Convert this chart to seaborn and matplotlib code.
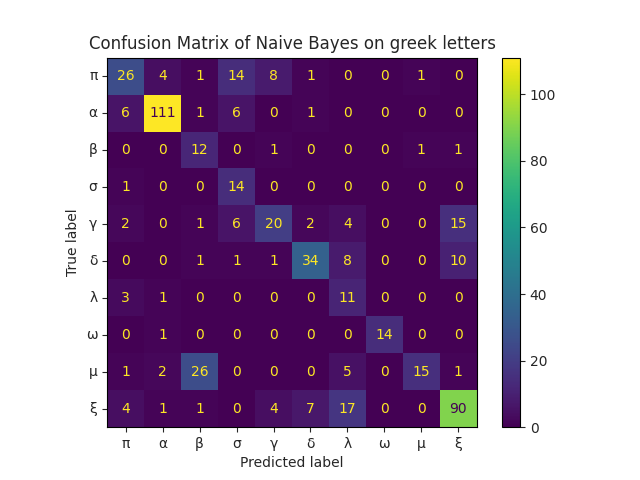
import numpy as np
import seaborn as sns
import matplotlib
matplotlib.use("Agg")
import matplotlib.pyplot as plt

labels = ["π", "α", "β", "σ", "γ", "δ", "λ", "ω", "μ", "ξ"]

row_pi = [26, 4, 1, 14, 8, 1, 0, 0, 1, 0]
row_alpha = [6, 111, 1, 6, 0, 1, 0, 0, 0, 0]
row_beta = [0, 0, 12, 0, 1, 0, 0, 0, 1, 1]
row_sigma = [1, 0, 0, 14, 0, 0, 0, 0, 0, 0]
row_gamma = [2, 0, 1, 6, 20, 2, 4, 0, 0, 15]
row_delta = [0, 0, 1, 1, 1, 34, 8, 0, 0, 10]
row_lambda = [3, 1, 0, 0, 0, 0, 11, 0, 0, 0]
row_omega = [0, 1, 0, 0, 0, 0, 0, 14, 0, 0]
row_mu = [1, 2, 26, 0, 0, 0, 5, 0, 15, 1]
row_xi = [4, 1, 1, 0, 4, 7, 17, 0, 0, 90]

cm = np.array([row_pi, row_alpha, row_beta, row_sigma, row_gamma,
               row_delta, row_lambda, row_omega, row_mu, row_xi])

sns.set_style("ticks")
plt.rcParams['font.family'] = ['DejaVu Sans']

fig, ax = plt.subplots(figsize=(6.4, 4.8), dpi=100)
cmap = plt.get_cmap("viridis")
sns.heatmap(cm, ax=ax, cmap=cmap, vmin=cm.min(), vmax=cm.max(), square=True,
            annot=True, fmt="d", annot_kws={"fontsize": 10},
            xticklabels=labels, yticklabels=labels, linewidths=0)

# sklearn-style text colours: dark on bright cells, yellow on dark ones
thresh = (cm.max() + cm.min()) / 2.0
for txt, val in zip(ax.texts, cm.flatten()):
    txt.set_color(cmap(0.0) if val > thresh else cmap(1.0))

for side in ax.spines.values():
    side.set_visible(True)
    side.set_linewidth(0.8)
    side.set_color("black")

cbar = ax.collections[0].colorbar
cbar.outline.set_visible(True)
cbar.outline.set_linewidth(0.8)
cbar.outline.set_edgecolor("black")
cbar.set_ticks([0, 20, 40, 60, 80, 100])
cbar.ax.tick_params(labelsize=10)

ax.tick_params(axis="both", labelsize=10, length=3.5, width=0.8)
ax.set_yticklabels(labels, rotation=0)
ax.set_xticklabels(labels, rotation=0)
ax.set_xlabel("Predicted label", fontsize=10)
ax.set_ylabel("True label", fontsize=10)
ax.set_title("Confusion Matrix of Naive Bayes on greek letters", fontsize=12)

fig.savefig("out.png", dpi=100)
